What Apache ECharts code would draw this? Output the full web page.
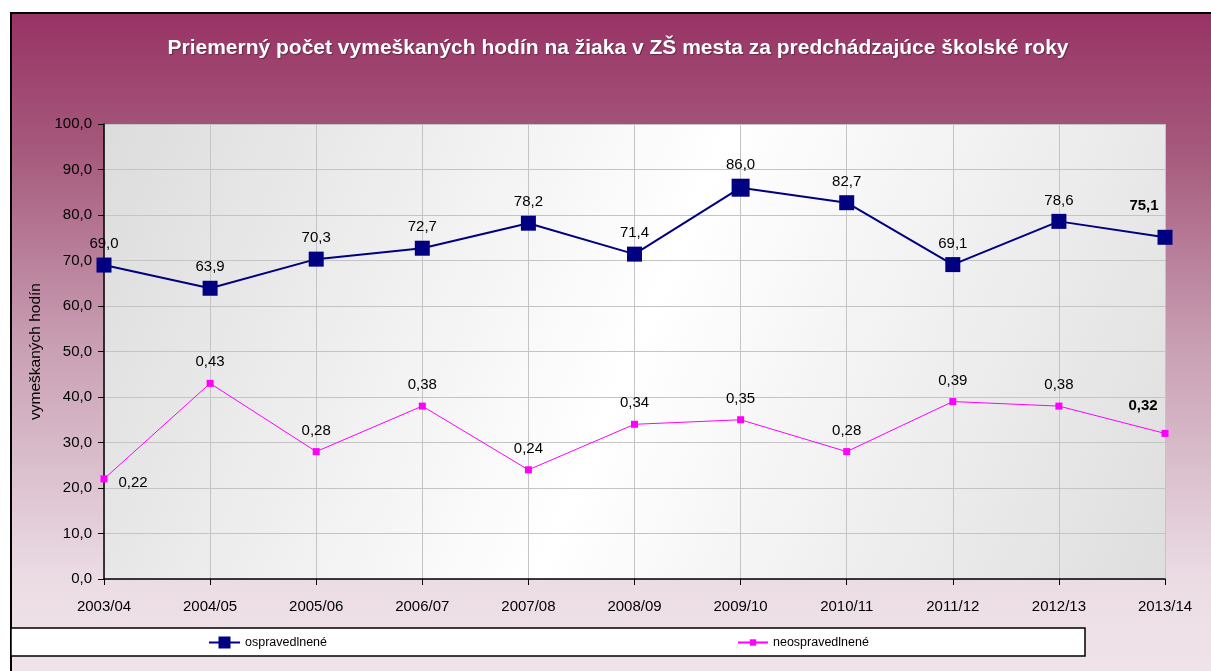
<!DOCTYPE html>
<html>
<head>
<meta charset="utf-8">
<script src="https://cdn.jsdelivr.net/npm/echarts@6/dist/echarts.min.js"></script>
<style>
  html, body { margin: 0; padding: 0; background: #ffffff; }
  #chart { width: 1211px; height: 671px; }
</style>
</head>
<body>
<div id="chart"></div>
<script>
// school years
var categories = ['2003/04', '2004/05', '2005/06', '2006/07', '2007/08', '2008/09',
  '2009/10', '2010/11', '2011/12', '2012/13', '2013/14']
// ospravedlnené hodiny
var excusedValues = [69.0, 63.9, 70.3, 72.7, 78.2, 71.4, 86.0, 82.7, 69.1, 78.6, 75.1]
// neospravedlnené - drawn on the axis scale (x100), labelled with real values
var unexcusedPlotted = [22, 43, 28, 38, 24, 34, 35, 28, 39, 38, 32]
var unexcusedLabels = ['0,22', '0,43', '0,28', '0,38', '0,24', '0,34', '0,35', '0,28', '0,39', '0,38', '0,32']
var yMin = 0, yMax = 100, yStep = 10

var font = '"Liberation Sans", Arial, sans-serif'
var last = categories.length - 1

var excusedData = excusedValues.map(function (v, i) {
  if (i === last) {
    return { value: v, label: { fontWeight: 'bold', offset: [-21, -10] } }
  }
  return v
})
var unexcusedData = unexcusedPlotted.map(function (v, i) {
  if (i === 0) {
    return { value: v, label: { position: 'right', distance: 11, offset: [0, 4] } }
  }
  if (i === last) {
    return { value: v, label: { fontWeight: 'bold', offset: [-22, -7] } }
  }
  return v
})

var chart = echarts.init(document.getElementById('chart'))
chart.setOption({
  animation: false,
  backgroundColor: '#ffffff',
  textStyle: { fontFamily: font },
  graphic: [
    {
      type: 'rect', z: -10, silent: true,
      shape: { x: 11, y: 13, width: 1210, height: 670 },
      style: {
        fill: {
          type: 'linear', x: 0, y: 0, x2: 0, y2: 1,
          colorStops: [
            { offset: 0, color: '#983365' },
            { offset: 0.2, color: '#a5587b' },
            { offset: 0.5, color: '#c9a0b4' },
            { offset: 0.85, color: '#ecdde5' },
            { offset: 1, color: '#f0e4ea' }
          ]
        },
        stroke: '#000000',
        lineWidth: 2
      }
    },
    {
      type: 'rect', z: -5, silent: true,
      shape: { x: 11, y: 628, width: 1074, height: 28 },
      style: { fill: '#ffffff', stroke: '#000000', lineWidth: 1.5 }
    }
  ],
  title: {
    text: 'Priemerný počet vymeškaných hodín na žiaka v ZŠ mesta za predchádzajúce školské roky',
    left: 613,
    textAlign: 'center',
    top: 33,
    textStyle: {
      color: '#ffffff',
      fontSize: 21,
      fontWeight: 'bold',
      fontFamily: font,
      textShadowColor: 'rgba(0,0,0,0.35)',
      textShadowBlur: 1,
      textShadowOffsetX: 1,
      textShadowOffsetY: 1
    }
  },
  legend: [
    {
      data: ['ospravedlnené'],
      left: 203, top: 631,
      itemWidth: 31, itemHeight: 15,
      textStyle: { fontSize: 12.5, color: '#000', fontFamily: font }
    },
    {
      data: ['neospravedlnené'],
      left: 732, top: 631,
      itemWidth: 30, itemHeight: 8,
      textStyle: { fontSize: 12.5, color: '#000', fontFamily: font }
    }
  ],
  grid: {
    left: 104, right: 46, top: 124, bottom: 92,
    show: true,
    borderWidth: 0,
    backgroundColor: {
      type: 'linear', x: 0, y: 0, x2: 1, y2: 1,
      colorStops: [
        { offset: 0, color: '#dcdcdc' },
        { offset: 0.5, color: '#ffffff' },
        { offset: 1, color: '#dedede' }
      ]
    }
  },
  xAxis: {
    type: 'category',
    data: categories,
    boundaryGap: false,
    axisLine: { lineStyle: { color: '#000', width: 1.5 } },
    axisTick: { show: true, length: 6, lineStyle: { color: '#000' } },
    axisLabel: { color: '#000', fontSize: 15, margin: 20, fontFamily: font },
    splitLine: { show: true, lineStyle: { color: '#c4c4c4', width: 1 } }
  },
  yAxis: {
    type: 'value',
    min: yMin, max: yMax, interval: yStep,
    name: 'vymeškaných hodín',
    nameLocation: 'middle',
    nameGap: 60,
    nameTextStyle: { color: '#000', fontSize: 15.5, fontFamily: font },
    axisLine: { show: true, lineStyle: { color: '#000', width: 1.5 } },
    axisTick: { show: true, length: 6, lineStyle: { color: '#000' } },
    axisLabel: {
      color: '#000', fontSize: 15, margin: 12, fontFamily: font,
      formatter: function (v) { return v.toFixed(1).replace('.', ',') }
    },
    splitLine: { show: true, lineStyle: { color: '#c4c4c4', width: 1 } }
  },
  series: [
    {
      name: 'ospravedlnené',
      type: 'line',
      data: excusedData,
      symbol: 'rect',
      symbolSize: function (v, p) { return p.dataIndex === 6 ? 18 : 15 },
      color: '#000080',
      lineStyle: { color: '#000080', width: 2 },
      itemStyle: { color: '#000080' },
      label: {
        show: true, position: 'top', distance: 6,
        color: '#000', fontSize: 15, fontFamily: font,
        formatter: function (p) { return p.value.toFixed(1).replace('.', ',') }
      },
      z: 3
    },
    {
      name: 'neospravedlnené',
      type: 'line',
      data: unexcusedData,
      symbol: 'rect',
      symbolSize: 7,
      color: '#ff00ff',
      lineStyle: { color: '#ff00ff', width: 1 },
      itemStyle: { color: '#ff00ff' },
      label: {
        show: true, position: 'top', distance: 10,
        color: '#000', fontSize: 15, fontFamily: font,
        formatter: function (p) { return unexcusedLabels[p.dataIndex] }
      },
      z: 2
    }
  ]
})
</script>
</body>
</html>
